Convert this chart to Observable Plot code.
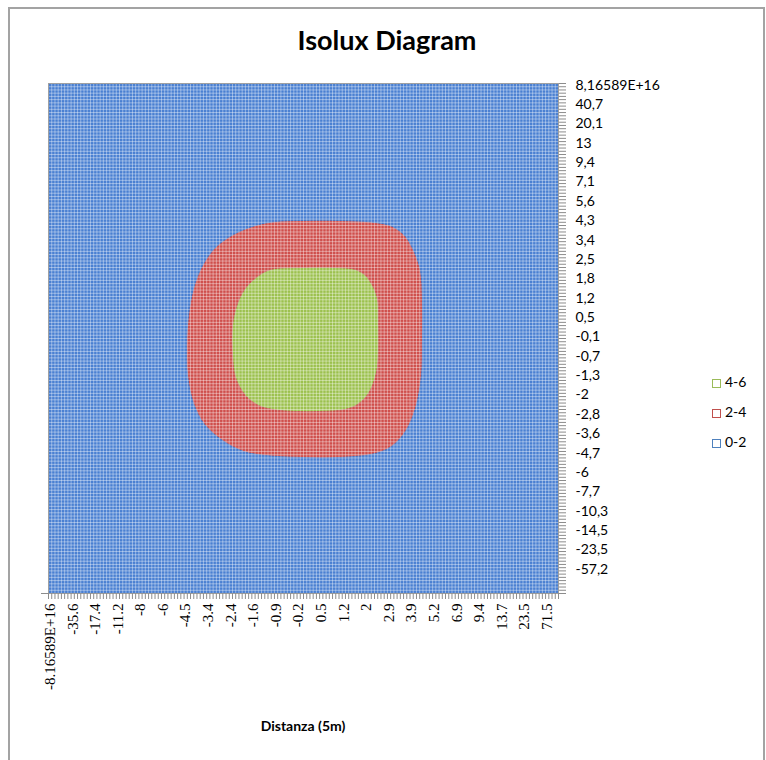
<!DOCTYPE html>
<html>
<head>
<meta charset="utf-8">
<script src="https://cdn.jsdelivr.net/npm/d3@7"></script>
<script src="https://cdn.jsdelivr.net/npm/@observablehq/plot@0.6"></script>
<style>
  html, body { margin: 0; padding: 0; background: #fff; }
  #wrap { position: relative; width: 766px; height: 760px; overflow: hidden; font-family: Lato, "Open Sans", sans-serif; }
  #border { position: absolute; left: 8px; top: 7px; width: 757px; height: 800px; border: 2px solid #a3a3a3; box-sizing: border-box; }
  #chart { position: absolute; left: 0; top: 0; }
  #title { position: absolute; left: 9px; width: 756px; top: 23px; text-align: center; font: 700 27px Lato, sans-serif; color: #000; }
  #xtitle { position: absolute; left: 203px; width: 200px; top: 717px; text-align: center; font: 700 14px Lato, sans-serif; color: #000; }
  #legend { position: absolute; left: 712px; top: 372px; font: 14px Lato, sans-serif; color: #000; }
  .item { height: 30px; line-height: 20px; white-space: nowrap; }
  .sw { display: inline-block; width: 7px; height: 7px; border: 1.5px solid; background: #fff; margin-right: 4px; vertical-align: -1px; }
</style>
</head>
<body>
<div id="wrap">
  <div id="border"></div>
  <div id="chart"></div>
  <div id="title">Isolux Diagram</div>
  <div id="xtitle">Distanza (5m)</div>
  <div id="legend"></div>
</div>
<script>
// Category grid of the surface (columns × rows)
const nCols = 158;
const nRows = 158;
const xLabelStep = 7;
const yLabelStep = 6;

// Tick labels
const xLabels = ["-8.16589E+16","-35.6","-17.4","-11.2","-8","-6","-4.5","-3.4","-2.4","-1.6","-0.9","-0.2","0.5","1.2","2","2.9","3.9","5.2","6.9","9.4","13.7","23.5","71.5"];
const yLabels = ["8,16589E+16","40,7","20,1","13","9,4","7,1","5,6","4,3","3,4","2,5","1,8","1,2","0,5","-0,1","-0,7","-1,3","-2","-2,8","-3,6","-4,7","-6","-7,7","-10,3","-14,5","-23,5","-57,2"];

// Series (bands)
const bands = ["4-6", "2-4", "0-2"];
const bandColors = ["#9BBB59", "#C0504D", "#4F81BD"];

// Contour of the 2-4 band (column index, row index), going round clockwise
const redX = [78.07, 90.46, 101.30, 106.57, 110.59, 113.38, 115.24, 115.86, 115.86, 115.55, 113.69, 110.59, 106.26, 101.30, 90.46, 78.07, 67.22, 60.41, 53.90, 48.33, 44.92, 43.06, 42.75, 43.37, 44.92, 47.71, 51.73, 57.31, 64.13, 70.32];
const redY = [42.44, 42.44, 43.06, 44.30, 47.40, 52.35, 57.93, 67.22, 79.62, 90.46, 100.68, 107.81, 112.45, 114.62, 115.86, 115.86, 115.24, 114.00, 110.59, 105.64, 99.13, 90.46, 81.16, 71.87, 63.51, 56.38, 50.81, 46.78, 43.99, 42.75];

// Contour of the 4-6 band
const greenX = [78.07, 88.91, 95.11, 98.20, 100.37, 101.92, 102.23, 102.23, 101.61, 99.13, 95.73, 92.01, 84.26, 76.52, 69.39, 65.06, 61.03, 57.93, 57.00, 57.00, 58.24, 60.72, 64.75, 68.77];
const greenY = [57.00, 57.00, 57.62, 59.48, 62.58, 66.60, 73.42, 82.71, 89.53, 96.03, 99.44, 100.99, 101.61, 101.61, 100.99, 99.75, 96.65, 91.08, 84.26, 74.97, 69.08, 63.82, 59.79, 57.62];

const fills = {"0-2": "#4A80D2", "2-4": "#CF4F4C", "4-6": "#9CC14E"};

const red = redX.map((x, i) => ({x, y: redY[i]}));
const green = greenX.map((x, i) => ({x, y: greenY[i]}));

const xTicks = xLabels.map((_, i) => i * xLabelStep + 0.5);
const yTicks = yLabels.map((_, i) => i * yLabelStep + 0.5);
const colEdges = d3.range(nCols + 1);
const rowEdges = d3.range(nRows + 1);

const gray = "#8c8c8c";

const chart = Plot.plot({
  width: 766,
  height: 760,
  marginLeft: 48,
  marginRight: 208,
  marginTop: 83,
  marginBottom: 167,
  style: {fontFamily: "Lato, sans-serif", fontSize: "14px", color: "#000", background: "transparent"},
  x: {domain: [0, nCols], axis: null},
  y: {domain: [nRows, 0], axis: null},
  marks: [
    Plot.frame({fill: fills["0-2"]}),
    Plot.line(red, {x: "x", y: "y", fill: fills["2-4"], stroke: "#4475C4", strokeWidth: 1, curve: "catmull-rom-closed"}),
    Plot.line(green, {x: "x", y: "y", fill: fills["4-6"], stroke: "#C65754", strokeWidth: 1, curve: "catmull-rom-closed"}),
    Plot.ruleX(colEdges, {stroke: "white", strokeOpacity: 0.4}),
    Plot.ruleY(rowEdges, {stroke: "white", strokeOpacity: 0.4}),
    Plot.frame({stroke: "#a0a0a0"}),
    // tick combs
    Plot.axisY(rowEdges, {anchor: "right", tickSize: 7, tickFormat: () => "", stroke: gray, label: null}),
    Plot.axisX(colEdges, {anchor: "bottom", tickSize: 6, tickFormat: () => "", stroke: gray, label: null}),
    Plot.axisY([nRows], {anchor: "left", tickSize: 7, tickFormat: () => "", stroke: gray, label: null}),
    // labels
    Plot.axisY(yTicks, {anchor: "right", tickSize: 0, tickPadding: 17, tickFormat: d => yLabels[Math.round((d - 0.5) / yLabelStep)], fontSize: 14, fontFamily: "Lato, sans-serif", fill: "#000", label: null}),
    Plot.axisX(xTicks, {anchor: "bottom", tickSize: 0, tickPadding: 10, tickRotate: -90, tickFormat: d => xLabels[Math.round((d - 0.5) / xLabelStep)], fontSize: 15, fontFamily: "Liberation Serif, serif", fill: "#000", label: null})
  ]
});
document.getElementById("chart").appendChild(chart);

const legend = document.getElementById("legend");
bands.forEach((b, i) => {
  const div = document.createElement("div");
  div.className = "item";
  const sw = document.createElement("span");
  sw.className = "sw";
  sw.style.borderColor = bandColors[i];
  div.appendChild(sw);
  div.appendChild(document.createTextNode(b));
  legend.appendChild(div);
});
</script>
</body>
</html>
